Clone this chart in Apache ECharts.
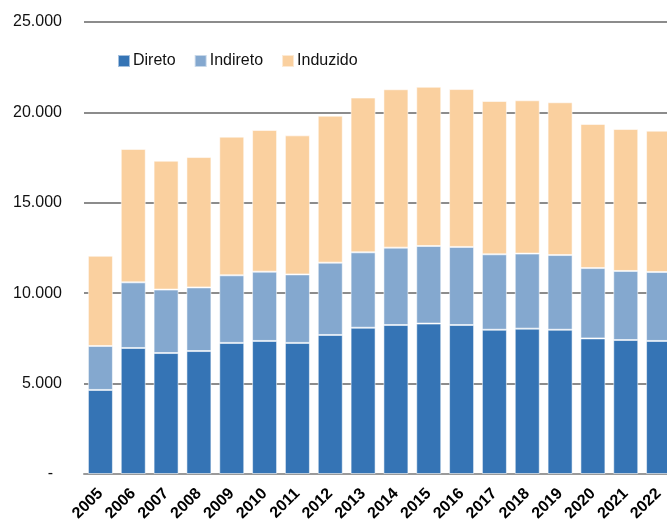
<!DOCTYPE html>
<html>
<head>
<meta charset="utf-8">
<script src="https://cdn.jsdelivr.net/npm/echarts@6/dist/echarts.min.js"></script>
<style>
  html, body { margin: 0; padding: 0; background: #fff; }
  #chart { width: 667px; height: 525px; }
</style>
</head>
<body>
<div id="chart"></div>
<script>
const years = ['2005', '2006', '2007', '2008', '2009', '2010', '2011', '2012', '2013',
  '2014', '2015', '2016', '2017', '2018', '2019', '2020', '2021', '2022']

const direto = [4650, 6970, 6690, 6800, 7250, 7360, 7250, 7690, 8090,
  8240, 8320, 8240, 7980, 8040, 7980, 7500, 7410, 7360]
const indireto = [2430, 3630, 3510, 3520, 3740, 3830, 3790, 4000, 4170,
  4280, 4290, 4320, 4170, 4150, 4130, 3890, 3820, 3810]
const induzido = [4990, 7380, 7130, 7210, 7670, 7840, 7690, 8130, 8560,
  8760, 8810, 8730, 8480, 8480, 8450, 7970, 7850, 7820]

const colors = ['#3574b5', '#84a8cf', '#fad09f']

// excel style: thousands with dot, zero shown as a dash
const fmt = v => v === 0 ? '-  ' : String(v / 1000) + '.000'

const chart = echarts.init(document.getElementById('chart'))

const makeSeries = (name, data, i) => ({
  name: name,
  type: 'bar',
  stack: 'total',
  barWidth: 25,
  data: data,
  itemStyle: {
    color: colors[i],
    borderColor: 'rgba(255,255,255,0.55)',
    borderWidth: 1
  }
})

chart.setOption({
  animation: false,
  textStyle: { fontFamily: 'Liberation Sans, Arial, sans-serif' },
  legend: {
    left: 112,
    top: 48,
    itemWidth: 12,
    itemHeight: 12,
    itemGap: 18,
    icon: 'rect',
    textStyle: { fontSize: 16, color: '#111', padding: [0, 0, 0, -2] },
    data: ['Direto', 'Indireto', 'Induzido']
  },
  grid: {
    left: 84,
    top: 22,
    bottom: 51,
    width: 591,
    containLabel: false,
    outerBoundsMode: 'none'
  },
  xAxis: {
    type: 'category',
    data: years,
    axisTick: { show: false },
    axisLine: { lineStyle: { color: '#9a9a9a', width: 2 } },
    axisLabel: {
      rotate: 45,
      interval: 0,
      margin: 17,
      fontSize: 16,
      fontWeight: 'bold',
      color: '#000'
    }
  },
  yAxis: {
    type: 'value',
    min: 0,
    max: 25000,
    interval: 5000,
    axisLine: { show: false },
    axisTick: { show: false },
    splitLine: { lineStyle: { color: '#8c8c8c', width: 2 } },
    axisLabel: {
      formatter: fmt,
      fontSize: 16,
      color: '#111',
      margin: 22
    }
  },
  series: [
    makeSeries('Direto', direto, 0),
    makeSeries('Indireto', indireto, 1),
    makeSeries('Induzido', induzido, 2)
  ]
})
</script>
</body>
</html>
